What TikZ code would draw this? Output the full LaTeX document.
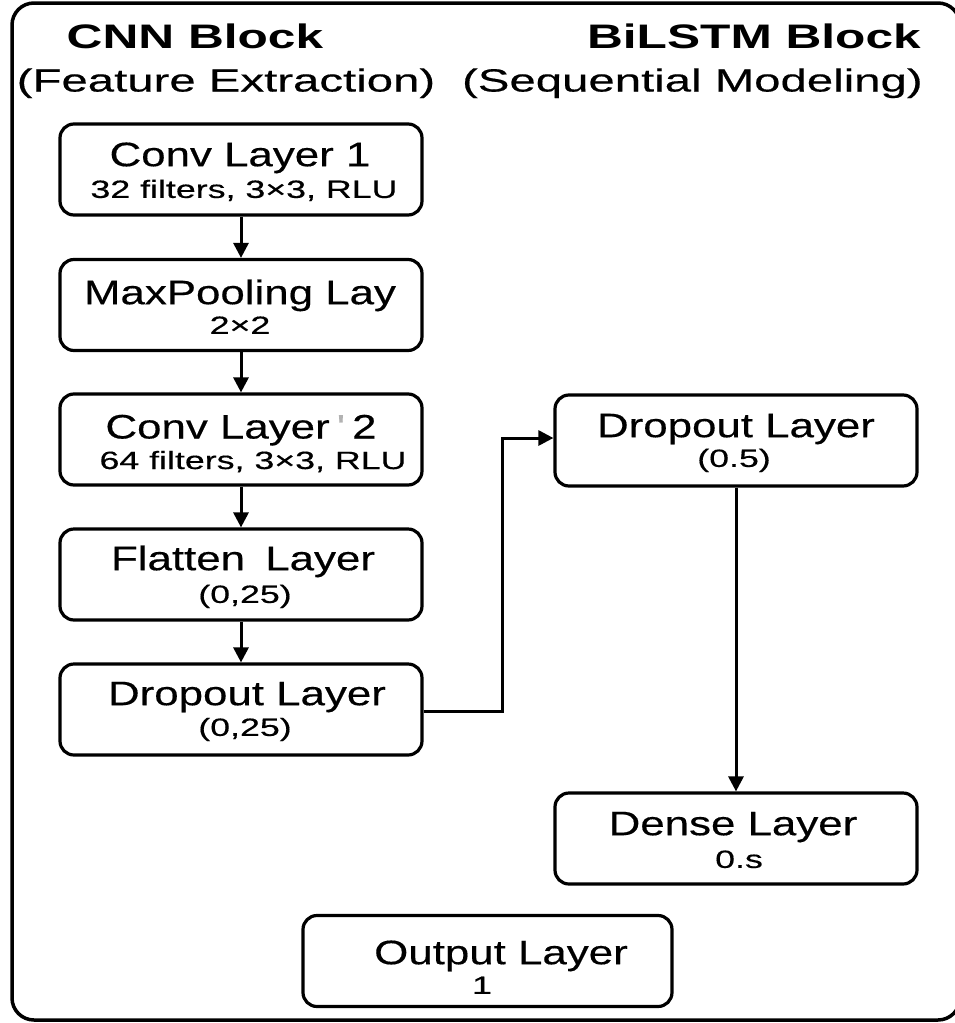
\documentclass[tikz,border=0pt]{standalone}
\usepackage{fontspec}
\usetikzlibrary{arrows.meta}
\newfontfamily\headfont[FakeStretch=1.46]{Liberation Sans}
\newfontfamily\parfont[FakeStretch=1.48,FakeBold=0.4]{Liberation Sans}
\newfontfamily\titlefont[FakeStretch=1.29,FakeBold=0.4]{Liberation Sans}
\newfontfamily\subfont[FakeStretch=1.43,FakeBold=0.4]{Liberation Sans}
\begin{document}
\begin{tikzpicture}[x=1pt,y=-1pt,
  layerbox/.style={draw, line width=3.2pt, rounded corners=14pt, minimum width=362pt, minimum height=91pt, inner sep=0pt},
  ttl/.style={anchor=base, inner sep=0pt, font=\titlefont\fontsize{34}{40}\selectfont},
  sublbl/.style={anchor=base, inner sep=0pt, font=\subfont\fontsize{25}{30}\selectfont},
  head/.style={inner sep=0pt, font=\headfont\bfseries\fontsize{34}{40}\selectfont},
  paren/.style={inner sep=0pt, font=\parfont\fontsize{32}{38}\selectfont},
  conn/.style={line width=3pt, -{Triangle[length=15pt,width=15pt]}},
]
\useasboundingbox (0,0) rectangle (954,1023);
\fill[white] (0,0) rectangle (954,1023);
\draw[line width=3.5pt, rounded corners=22pt] (12,3) rectangle (960,1020);

% headings
\node[head, anchor=base] (hcnn) at (195,48) {CNN Block};
\node[head, anchor=base east] (hbil) at (921,48) {BiLSTM Block};
\node[paren, anchor=base] (pcnn) at (226,91.5) {(Feature Extraction)};
\node[paren, anchor=base east] (pbil) at (923,91.5) {(Sequential Modeling)};

% boxes
\node[layerbox] (conv1) at (241,169.5) {};
\node[layerbox] (pool)  at (241,305) {};
\node[layerbox] (conv2) at (241,439.5) {};
\node[layerbox] (flat)  at (241,574.5) {};
\node[layerbox] (dropl) at (241,709.5) {};
\node[layerbox] (dropr) at (736,440.5) {};
\node[layerbox] (dense) at (736,838.5) {};
\node[layerbox, minimum width=369pt] (outl) at (487.5,961) {};

% texts
\node[ttl] (t1) at (240,166.2) {Conv Layer 1};
\node[sublbl] (s1) at (244,197.9) {32 filters, 3×3, RLU};
\node[ttl] (t2) at (240,304.2) {MaxPooling Lay};
\node[sublbl] (s2) at (240,333.9) {2×2};
\node[ttl] (t3) at (241,438.5) {Conv Layer\hspace{7pt}{\color{black!30}'}\hspace{7pt}2};
\node[sublbl] (s3) at (253,469) {64 filters, 3×3, RLU};
\node[ttl] (t4) at (243,570.2) {Flatten\hspace{8pt} Layer};
\node[sublbl] (s4) at (245,602.9) {(0,25)};
\node[ttl] (t5) at (247,705.2) {Dropout Layer};
\node[sublbl] (s5) at (245,735.9) {(0,25)};
\node[ttl] (t6) at (736,437.2) {Dropout Layer};
\node[sublbl] (s6) at (734,466.9) {(0.5)};
\node[ttl] (t7) at (733,835.2) {Dense Layer};
\node[sublbl] (s7) at (739,867.9) {0.s};
\node[ttl] (t8) at (501,964.2) {Output Layer};
\node[sublbl] (s8) at (482,993.9) {1};

% connectors
\draw[conn] (conv1.south) -- (pool.north);
\draw[conn] (pool.south) -- (conv2.north);
\draw[conn] (conv2.south) -- (flat.north);
\draw[conn] (flat.south) -- (dropl.north);
\draw[conn] ([yshift=-1.5pt]dropl.east) -- ++(79,0) |- ([yshift=2.5pt]dropr.west);
\draw[conn] (dropr.south) -- (dense.north);
\end{tikzpicture}
\end{document}
